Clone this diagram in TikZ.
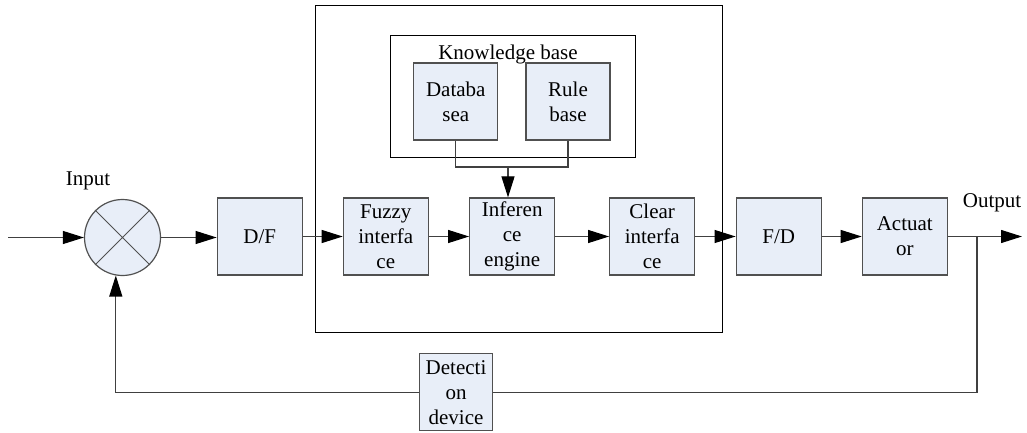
\documentclass[tikz,border=0pt]{standalone}
\usepackage{fontspec}
\setmainfont{Liberation Serif}
\newfontfamily\tnr{Liberation Serif}
\usetikzlibrary{arrows.meta}
\definecolor{boxfill}{HTML}{E8EEF8}
\definecolor{boxline}{HTML}{505050}
\definecolor{wire}{HTML}{404040}
\begin{document}
\begin{tikzpicture}[x=1pt,y=-1pt,
  font=\tnr\fontsize{21}{25}\selectfont,
  blk/.style={draw=boxline,line width=1.2pt,fill=boxfill,minimum width=85pt,minimum height=77pt,inner sep=0pt,align=center},
  frame/.style={draw=black,line width=1pt,inner sep=0pt},
  wireline/.style={draw=wire,line width=1.1pt},
  arr/.style={wireline,-{Triangle[length=21pt,width=13pt,color=black]}},
  lbl/.style={inner sep=0pt}]
\useasboundingbox (0,0) rectangle (1027,433);
% frames
\node[frame,minimum width=407pt,minimum height=326pt] (ctrl) at (519,169) {};
\node[frame,minimum width=245pt,minimum height=121pt] (kb) at (513.3,96.5) {};
\node[lbl,anchor=base] (kbt) at (508,59.5) {Knowledge base};
% blocks
\node[blk,minimum width=84pt] (db) at (455.8,101.5) {Databa\\sea};
\node[blk,minimum width=84pt] (rb) at (568,101.5) {Rule\\base};
\node[blk] (df) at (259.7,236.5) {D/F};
\node[blk] (fz) at (385.8,236.5) {Fuzzy\\interfa\\ce};
\node[blk] (inf) at (512.2,236.5) {Inferen\\ce\\engine};
\node[blk] (clr) at (652.2,236.5) {Clear\\interfa\\ce};
\node[blk] (fd) at (778.7,236.5) {F/D};
\node[blk] (act) at (904.8,236.5) {Actuat\\or};
\node[blk,minimum width=73pt] (det) at (456,392.2) {Detecti\\on\\device};
% summing junction
\node[circle,draw=boxline,line width=1.2pt,fill=boxfill,minimum size=76pt,inner sep=0pt] (sum) at (122.5,237.5) {};
\draw[boxline,line width=1pt] (sum.45) -- (sum.225) (sum.135) -- (sum.315);
% labels
\node[lbl] (inl) at (88,181) {Input};
\node[lbl] (outl) at (992,203) {Output};
% coordinates
\coordinate (inst) at (8,237.5);
\coordinate (outend) at (1022,236.5);
\coordinate (br) at (977,236.5);
\coordinate (j) at (508,167);
% connectors
\draw[arr] (inst) -- (sum.west);
\draw[arr] (sum.east) -- (sum.east -| df.west);
\draw[arr] (df.east) -- (fz.west);
\draw[arr] (fz.east) -- (inf.west);
\draw[arr] (inf.east) -- (clr.west);
\draw[arr] (clr.east) -- (fd.west);
\draw[arr] (fd.east) -- (act.west);
\draw[arr] (act.east) -- (outend);
\draw[wireline] (db.south) |- (j) -| (rb.south);
\draw[arr] (j) -- (j |- inf.north);
\draw[wireline] (br) |- (det.east);
\draw[arr] (det.west) -| (sum.260);
\end{tikzpicture}
\end{document}
